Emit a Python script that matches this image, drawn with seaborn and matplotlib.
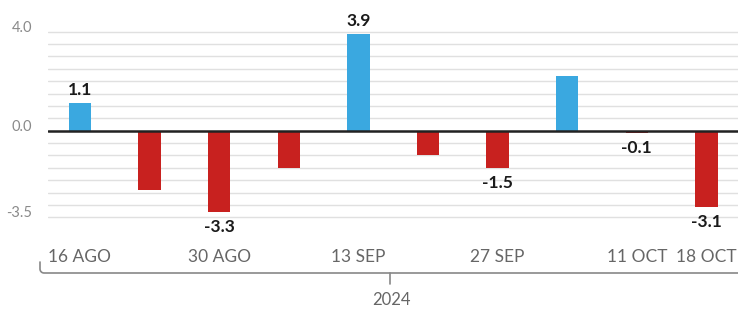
import matplotlib
matplotlib.use("Agg")
import matplotlib.pyplot as plt
import seaborn as sns
import pandas as pd
import numpy as np
from matplotlib.lines import Line2D
import matplotlib.transforms as mtransforms

# ---- data ----
weeks = ["16 AGO", "23 AGO", "30 AGO", "6 SEP", "13 SEP", "20 SEP", "27 SEP", "4 OCT", "11 OCT", "18 OCT"]
values = [1.1, -2.4, -3.3, -1.5, 3.9, -1.0, -1.5, 2.2, -0.1, -3.1]
shown_labels = ["1.1", "", "-3.3", "", "3.9", "", "-1.5", "", "-0.1", "-3.1"]
tick_weeks = ["16 AGO", "30 AGO", "13 SEP", "27 SEP", "11 OCT", "18 OCT"]
y_tick_values = [-3.5, 0.0, 4.0]
year_label = "2024"

BLUE = "#3AA8E0"
RED = "#C8211F"

W, H = 738, 309
sns.set_style("white")
plt.rcParams["font.family"] = ["Lato", "DejaVu Sans"]

fig = plt.figure(figsize=(W / 100, H / 100), dpi=100)
ax_left, ax_right, ax_top, ax_bot = 48, 738, 10, 230
ax = fig.add_axes([ax_left / W, (H - ax_bot) / H, (ax_right - ax_left) / W, (ax_bot - ax_top) / H])

df = pd.DataFrame({"week": weeks, "value": values,
                   "sign": ["pos" if v >= 0 else "neg" for v in values]})
sns.barplot(data=df, x="week", y="value", hue="sign", order=weeks,
            palette={"pos": BLUE, "neg": RED}, dodge=False, width=0.32,
            legend=False, ax=ax, saturation=1, zorder=3, linewidth=0)

# scale
zero_px = 130.7
unit_px = 24.75
ax.set_ylim((zero_px - ax_bot) / unit_px, (zero_px - ax_top) / unit_px)
x0_px, step_px = 80, 69.6
ax.set_xlim((ax_left - x0_px) / step_px, (ax_right - x0_px) / step_px)

# gridlines
for g in np.arange(-3.5, 4.01, 0.5):
    ax.axhline(g, color="#e0e0e0", lw=1, zorder=1)
ax.axhline(0, color="#222222", lw=1.8, zorder=4)

for s in ax.spines.values():
    s.set_visible(False)
ax.set_xlabel("")
ax.set_ylabel("")
ax.set_yticks([])

# y labels sitting on the gridlines
trans = mtransforms.blended_transform_factory(ax.transAxes, ax.transData)
for v in y_tick_values:
    ax.text(-16 / (ax_right - ax_left), v, f"{v:.1f}", transform=trans,
            ha="right", va="baseline", fontsize=10.5, color="#8a8a8a")

# x ticks
pos = [weeks.index(t) for t in tick_weeks]
ax.set_xticks(pos)
ax.set_xticklabels(tick_weeks, fontsize=12.5, color="#666666")
ax.tick_params(axis="x", length=0, pad=14)

# value labels
for i, (v, lab) in enumerate(zip(values, shown_labels)):
    if not lab:
        continue
    if v >= 0:
        ax.annotate(lab, (i, v), xytext=(0, 4), textcoords="offset points",
                    ha="center", va="bottom", fontsize=12.5, fontweight="bold", color="#1a1a1a")
    else:
        ax.annotate(lab, (i, v), xytext=(0, -5), textcoords="offset points",
                    ha="center", va="top", fontsize=12.5, fontweight="bold", color="#1a1a1a")

# bracket under the tick labels
def fx(px):
    return px / W
def fy(py):
    return (H - py) / H

t = np.linspace(np.pi, 1.5 * np.pi, 8)
r = 4
cx, cy = 40 + r, 273 - r
arc_x = [cx + r * np.cos(a) for a in t]
arc_y = [cy - r * np.sin(a) for a in t]
bx = [40] + arc_x + [738]
by = [262] + arc_y + [273]
fig.add_artist(Line2D([fx(x) for x in bx], [fy(y) for y in by],
                      color="#888888", lw=1.2, transform=fig.transFigure))
fig.add_artist(Line2D([fx(390), fx(390)], [fy(273), fy(284)],
                      color="#888888", lw=1.2, transform=fig.transFigure))
fig.text(fx(391), fy(300), year_label, ha="center", va="center",
         fontsize=12, color="#666666")

fig.savefig("out.png", dpi=100, facecolor="white")
